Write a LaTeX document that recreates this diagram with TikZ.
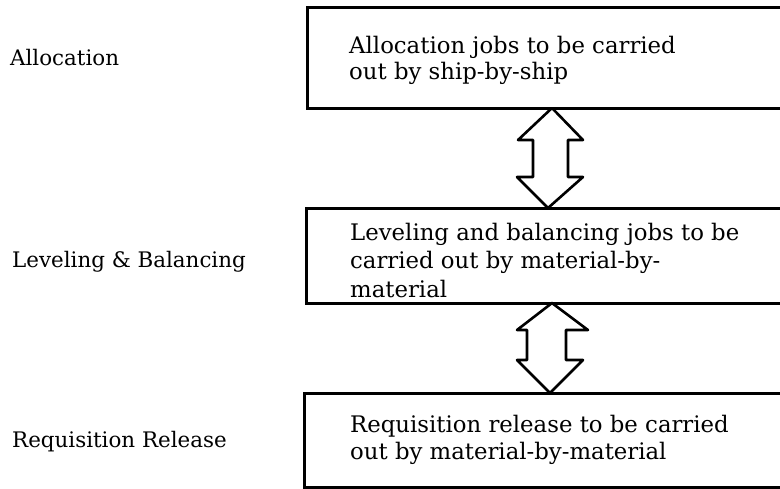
\documentclass[tikz,border=0pt]{standalone}
\usepackage{fontspec}
\setmainfont{DejaVu Serif}
\begin{document}
\begin{tikzpicture}[x=1pt,y=-1pt,
  stagebox/.style={draw, line width=3pt, rectangle, anchor=north west,
    inner sep=0pt, outer sep=0pt, minimum width=520pt},
  label/.style={anchor=base west, inner sep=0pt, font=\fontsize{21.4}{26}\selectfont},
  boxtext/.style={anchor=base west, inner sep=0pt},
  flow/.style={draw, line width=2.6pt, line join=round, fill=white}]
\useasboundingbox (0,0) rectangle (780,488);
\clip (0,0) rectangle (780,488);

% stage boxes (right side runs off the page)
\node[stagebox, minimum height=101pt] (box1) at (307,7) {};
\node[stagebox, minimum height=95pt]  (box2) at (306,208) {};
\node[stagebox, minimum height=94pt]  (box3) at (304,393) {};

% box texts
\node[boxtext] (t1) at (349,53) {\parbox[t]{420pt}{\fontsize{22.8}{26}\selectfont
  Allocation jobs to be carried\\out by ship-by-ship}};
\node[boxtext] (t2) at (350,240) {\parbox[t]{420pt}{\fontsize{22.8}{28.5}\selectfont
  Leveling and balancing jobs to be\\carried out by material-by-\\material}};
\node[boxtext] (t3) at (350,432) {\parbox[t]{420pt}{\fontsize{22.8}{27}\selectfont
  Requisition release to be carried\\out by material-by-material}};

% stage names
\node[label] (l1) at (10,65)  {Allocation};
\node[label] (l2) at (12,267) {Leveling \& Balancing};
\node[label] (l3) at (12,447) {Requisition Release};

% two-way arrows between the stages
\begin{scope}[shift={(box1.south west)}]
  \draw[flow] (245,0) -- (276,32) -- (261,32) -- (261,69) -- (276,69)
    -- (241,100) -- (210,69) -- (226,69) -- (226,32) -- (211,32) -- cycle;
\end{scope}
\begin{scope}[shift={(box2.south west)}]
  \draw[flow] (246,0) -- (282,27) -- (260,27) -- (260,57) -- (277,57)
    -- (244,90) -- (211,57) -- (221,57) -- (221,27) -- (211,27) -- cycle;
\end{scope}
\end{tikzpicture}
\end{document}
